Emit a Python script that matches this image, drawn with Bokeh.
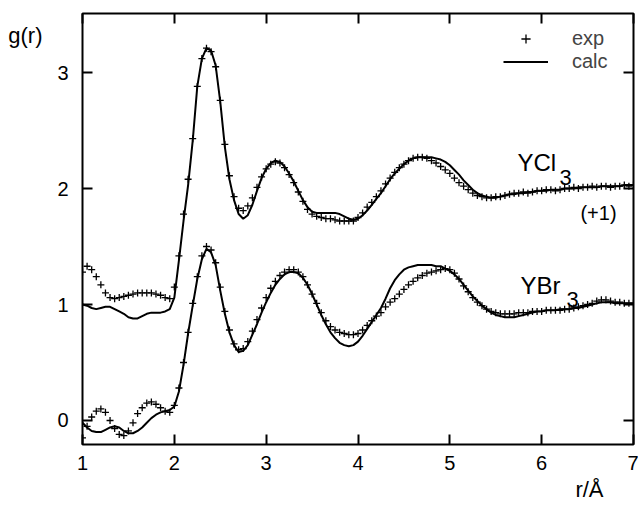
from bokeh.plotting import figure
from bokeh.models import Range1d, LinearAxis, FixedTicker, Label, Legend, LegendItem, Title
from bokeh.embed import file_html
from bokeh.resources import INLINE

# r grid (Angstrom), 0.05 steps from 1 to 7
r = [round(1.0 + 0.05 * i, 2) for i in range(121)]

# YCl3 (plotted with +1 offset)
ycl3_exp = [
    0.28, 0.33, 0.30, 0.24, 0.17, 0.10, 0.06, 0.05, 0.06, 0.07, 0.08, 0.09, 0.10, 0.10, 0.10, 0.10, 0.09, 0.08, 0.06, 0.05,
    0.15, 0.42, 0.78, 1.08, 1.43, 1.88, 2.12, 2.21, 2.18, 2.05, 1.76, 1.38, 1.11, 0.93, 0.83, 0.81, 0.85, 0.92, 1.01, 1.10,
    1.17, 1.21, 1.23, 1.22, 1.18, 1.12, 1.05, 0.97, 0.89, 0.82, 0.78, 0.76, 0.75, 0.74, 0.74, 0.73, 0.72, 0.72, 0.72, 0.72,
    0.75, 0.79, 0.84, 0.88, 0.93, 0.98, 1.04, 1.09, 1.14, 1.18, 1.21, 1.24, 1.26, 1.27, 1.27, 1.26, 1.24, 1.22, 1.19, 1.16,
    1.13, 1.09, 1.05, 1.02, 0.99, 0.96, 0.94, 0.93, 0.92, 0.92, 0.93, 0.93, 0.94, 0.95, 0.96, 0.96, 0.97, 0.96, 0.97, 0.98,
    0.98, 0.99, 0.99, 0.98, 0.99, 1.00, 1.00, 1.01, 1.00, 1.01, 1.01, 1.02, 1.01, 1.02, 1.02, 1.01, 1.02, 1.02, 1.03, 1.02, 1.03,
]
ycl3_calc = [
    0.00, -0.01, -0.03, -0.04, -0.03, -0.02, -0.02, -0.04, -0.06, -0.08, -0.11, -0.12, -0.12, -0.10, -0.08, -0.07, -0.07, -0.07, -0.06, -0.04,
    0.06, 0.38, 0.72, 1.03, 1.41, 1.88, 2.12, 2.21, 2.19, 2.06, 1.75, 1.36, 1.08, 0.90, 0.78, 0.74, 0.77, 0.86, 0.98, 1.09,
    1.17, 1.22, 1.24, 1.23, 1.19, 1.13, 1.06, 0.98, 0.90, 0.84, 0.80, 0.79, 0.79, 0.79, 0.79, 0.79, 0.78, 0.76, 0.74, 0.73,
    0.74, 0.77, 0.81, 0.86, 0.91, 0.96, 1.02, 1.08, 1.13, 1.17, 1.21, 1.24, 1.26, 1.27, 1.27, 1.27, 1.27, 1.26, 1.25, 1.23,
    1.20, 1.16, 1.12, 1.07, 1.03, 0.99, 0.96, 0.94, 0.93, 0.92, 0.92, 0.93, 0.94, 0.95, 0.95, 0.96, 0.96, 0.97, 0.97, 0.98,
    0.98, 0.98, 0.99, 0.99, 0.99, 1.00, 1.00, 1.00, 1.01, 1.01, 1.01, 1.01, 1.01, 1.02, 1.02, 1.02, 1.02, 1.02, 1.03, 1.03, 1.03,
]
ycl3_offset = 1.0

# YBr3
ybr3_exp = [
    -0.15, -0.05, 0.03, 0.08, 0.10, 0.07, 0.00, -0.07, -0.12, -0.13, -0.09, -0.02, 0.06, 0.11, 0.15, 0.16, 0.14, 0.11, 0.08, 0.07,
    0.13, 0.28, 0.50, 0.76, 1.01, 1.24, 1.42, 1.50, 1.47, 1.36, 1.15, 0.94, 0.78, 0.66, 0.61, 0.62, 0.68, 0.77, 0.87, 0.97,
    1.06, 1.14, 1.20, 1.25, 1.28, 1.30, 1.30, 1.28, 1.24, 1.17, 1.09, 1.01, 0.93, 0.86, 0.81, 0.78, 0.76, 0.75, 0.74, 0.74,
    0.75, 0.78, 0.82, 0.86, 0.90, 0.93, 0.98, 1.02, 1.05, 1.09, 1.13, 1.17, 1.20, 1.23, 1.25, 1.27, 1.28, 1.29, 1.30, 1.31,
    1.30, 1.27, 1.22, 1.16, 1.11, 1.06, 1.02, 0.99, 0.96, 0.94, 0.93, 0.92, 0.92, 0.92, 0.92, 0.93, 0.93, 0.93, 0.94, 0.94,
    0.94, 0.95, 0.95, 0.95, 0.95, 0.96, 0.96, 0.97, 0.98, 0.99, 1.00, 1.01, 1.03, 1.04, 1.04, 1.03, 1.02, 1.02, 1.01, 1.01, 1.01,
]
ybr3_calc = [
    -0.02, -0.06, -0.09, -0.10, -0.10, -0.08, -0.06, -0.05, -0.06, -0.09, -0.11, -0.11, -0.09, -0.06, -0.02, 0.02, 0.05, 0.07, 0.08, 0.09,
    0.12, 0.25, 0.48, 0.75, 0.99, 1.22, 1.39, 1.48, 1.45, 1.34, 1.12, 0.92, 0.76, 0.65, 0.59, 0.60, 0.65, 0.74, 0.83, 0.93,
    1.02, 1.10, 1.17, 1.22, 1.26, 1.28, 1.28, 1.27, 1.23, 1.17, 1.09, 1.00, 0.91, 0.83, 0.76, 0.71, 0.67, 0.65, 0.64, 0.65,
    0.68, 0.73, 0.79, 0.85, 0.91, 0.97, 1.05, 1.14, 1.21, 1.26, 1.30, 1.32, 1.33, 1.34, 1.34, 1.34, 1.34, 1.33, 1.33, 1.31,
    1.29, 1.26, 1.22, 1.17, 1.12, 1.07, 1.03, 0.99, 0.96, 0.93, 0.91, 0.90, 0.89, 0.89, 0.89, 0.90, 0.91, 0.92, 0.93, 0.94,
    0.94, 0.95, 0.95, 0.95, 0.96, 0.96, 0.96, 0.97, 0.97, 0.98, 0.99, 1.00, 1.01, 1.02, 1.02, 1.02, 1.01, 1.01, 1.01, 1.01, 1.01,
]

x_ticks = [1, 2, 3, 4, 5, 6, 7]
y_ticks = [0, 1, 2, 3]

FONT = "Liberation Sans"

p = figure(width=638, height=505, output_backend="svg", toolbar_location=None,
           x_range=Range1d(1, 7), y_range=Range1d(-0.207, 3.509),
           x_axis_location=None, y_axis_location=None,
           min_border_left=82, min_border_right=5, min_border_top=13, min_border_bottom=61)
p.grid.visible = False
p.outline_line_color = "black"
p.outline_line_width = 2
p.background_fill_color = "white"
p.border_fill_color = "white"


def make_axis(ticks, show_labels, standoff):
    ax = LinearAxis(ticker=FixedTicker(ticks=ticks))
    ax.axis_line_color = None
    ax.major_tick_in = 10
    ax.major_tick_out = 0
    ax.major_tick_line_width = 2
    ax.major_tick_line_color = "black"
    ax.minor_tick_line_color = None
    ax.major_label_text_font = FONT
    if show_labels:
        ax.major_label_text_color = "black"
        ax.major_label_text_font_size = "20px"
    else:
        ax.major_label_text_color = None
        ax.major_label_text_font_size = "1px"
    ax.major_label_standoff = standoff
    return ax


p.add_layout(make_axis(y_ticks, True, 14), "left")
p.add_layout(make_axis(x_ticks, True, 11), "below")
p.add_layout(make_axis(x_ticks, False, 0), "above")
p.add_layout(make_axis(y_ticks, False, 0), "right")

# y-axis title "g(r)" near the top, drawn as the single label of an outer, tick-less axis
GR_POS = 3.32
gr_axis = LinearAxis(ticker=FixedTicker(ticks=[GR_POS]), major_label_overrides={GR_POS: "g(r)"})
gr_axis.axis_line_color = None
gr_axis.major_tick_line_color = None
gr_axis.minor_tick_line_color = None
gr_axis.major_tick_in = 0
gr_axis.major_tick_out = 0
gr_axis.major_label_standoff = 12
gr_axis.major_label_text_font = FONT
gr_axis.major_label_text_font_size = "22px"
gr_axis.major_label_text_color = "black"
p.add_layout(gr_axis, "left")

p.add_layout(Title(text="r/Å", align="right", offset=30, standoff=5,
                   text_font=FONT, text_font_size="22px", text_font_style="normal",
                   text_color="black"), "below")

ycl3_exp_plot = [v + ycl3_offset for v in ycl3_exp]
ycl3_calc_plot = [v + ycl3_offset for v in ycl3_calc]

calc1 = p.line(r, ycl3_calc_plot, line_color="black", line_width=2)
p.line(r, ybr3_calc, line_color="black", line_width=2)
exp1 = p.scatter(r, ycl3_exp_plot, marker="cross", size=7, line_color="black", line_width=1.3)
p.scatter(r, ybr3_exp, marker="cross", size=7, line_color="black", line_width=1.3)

legend = Legend(items=[LegendItem(label="exp", renderers=[exp1]),
                       LegendItem(label="calc", renderers=[calc1])],
                location=(421, 371.5), orientation="vertical",
                glyph_width=45, glyph_height=23, label_height=23, label_width=40,
                label_standoff=24, spacing=0, padding=0, margin=0,
                border_line_color=None, background_fill_alpha=0,
                label_text_font=FONT, label_text_font_size="20px")
p.add_layout(legend)


def add_text(x, y, text, size, align="left", baseline="alphabetic"):
    p.add_layout(Label(x=x, y=y, text=text, text_font=FONT, text_font_size=size,
                       text_align=align, text_baseline=baseline, text_color="black"))


add_text(5.737, 2.224, "YCl", "24px")
add_text(6.194, 2.095, "3", "22px")
add_text(6.619, 1.793, "(+1)", "20px", align="center", baseline="middle")
add_text(5.770, 1.164, "YBr", "24px")
add_text(6.271, 1.043, "3", "22px")

open("out.html", "w").write(file_html(p, INLINE))
